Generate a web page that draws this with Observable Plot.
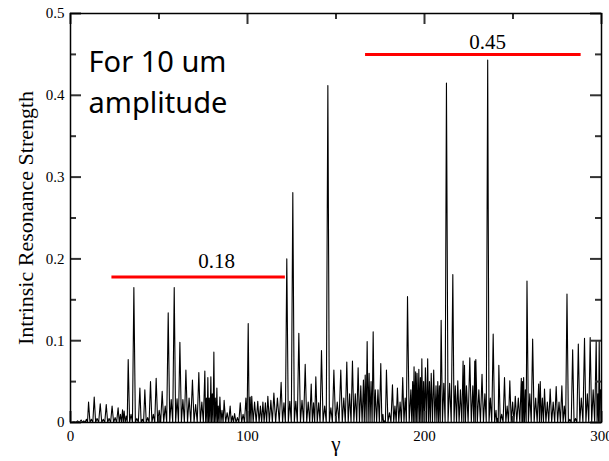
<!DOCTYPE html>
<html>
<head>
<meta charset="utf-8">
<script src="https://cdn.jsdelivr.net/npm/d3@7"></script>
<script src="https://cdn.jsdelivr.net/npm/@observablehq/plot@0.6"></script>
<style>
  html, body { margin: 0; padding: 0; background: #fff; }
  #chart svg { display: block; }
</style>
</head>
<body>
<div id="chart"></div>
<script>
// Resonance peaks (gamma, strength)
const gamma = [
  2, 4, 6, 7.5, 9, 10.2, 11.8, 13.4, 15, 16.8,
  18.5, 20.2, 21.8, 23.5, 25.2, 26.9, 28.2, 29.4, 30.3, 31.5,
  32.6, 34.2, 35.8, 37.5, 39.2, 40.6, 42.0, 43.6, 45.2, 46.8,
  48.4, 50.1, 51.8, 53.5, 55.2, 56.9, 58.6, 60.2, 61.8, 63.5,
  65.2, 67.0, 68.9, 70.7, 72.5, 74.2, 75.9, 76.8, 77.6, 78.4,
  79.3, 80.1, 81.0, 81.8, 82.7, 83.5, 84.4, 85.6, 86.8, 88.5,
  90.2, 91.5, 92.7, 94.3, 95.9, 97.5, 99.1, 100.4, 101.5, 102.4,
  104.0, 105.8, 107.3, 108.7, 110.1, 111.5, 113.2, 114.9, 116.9, 119.0,
  120.6, 122.2, 123.9, 125.6, 127.3, 129.0, 130.8, 132.6, 134.3, 136.0,
  137.3, 138.6, 140.2, 141.8, 143.6, 145.4, 147.1, 148.8, 150.7, 152.7,
  154.4, 156.1, 157.7, 159.3, 160.9, 162.5, 164.0, 165.5, 166.5, 167.6,
  168.7, 169.8, 171.0, 172.2, 173.7, 175.3, 176.5, 177.3, 178.5, 180.2,
  181.9, 183.3, 184.7, 186.2, 187.7, 189.1, 190.4, 192.3, 193.3, 194.1,
  195.0, 195.8, 196.8, 197.7, 198.5, 199.5, 200.5, 201.8, 202.8, 203.8,
  205.2, 206.5, 207.5, 208.4, 209.4, 210.9, 212.4, 214.2, 216.0, 217.4,
  218.8, 220.3, 221.8, 222.6, 223.7, 225.6, 227.3, 228.4, 229.0, 230.7,
  232.5, 234.1, 235.7, 237.2, 238.8, 240.4, 241.3, 242.0, 243.6, 245.2,
  246.7, 248.2, 249.8, 251.3, 253.0, 254.7, 255.4, 256.0, 257.0, 257.9,
  259.5, 261.1, 262.8, 264.5, 265.4, 266.6, 267.8, 269.4, 271.0, 272.7,
  274.4, 276.0, 277.6, 279.0, 280.5, 282.1, 283.7, 285.3, 286.9, 288.6,
  290.4, 292.0, 293.6, 295.3, 297.0, 298.0, 298.7, 299.5
];
const strength = [
  0.001, 0.002, 0.003, 0.002, 0.004, 0.025, 0.004, 0.031, 0.005, 0.023,
  0.004, 0.022, 0.005, 0.020, 0.006, 0.018, 0.010, 0.0155, 0.014, 0.008,
  0.077, 0.010, 0.165, 0.005, 0.042, 0.004, 0.040, 0.006, 0.050, 0.010,
  0.054, 0.015, 0.038, 0.020, 0.134, 0.028, 0.165, 0.029, 0.098, 0.028,
  0.064, 0.030, 0.052, 0.022, 0.061, 0.025, 0.063, 0.030, 0.055, 0.030,
  0.056, 0.035, 0.086, 0.030, 0.042, 0.020, 0.031, 0.015, 0.027, 0.012,
  0.020, 0.008, 0.011, 0.006, 0.024, 0.010, 0.030, 0.121, 0.031, 0.032,
  0.025, 0.026, 0.020, 0.025, 0.024, 0.032, 0.027, 0.036, 0.030, 0.049,
  0.024, 0.200, 0.026, 0.281, 0.026, 0.109, 0.027, 0.071, 0.025, 0.047,
  0.024, 0.056, 0.024, 0.088, 0.020, 0.412, 0.018, 0.064, 0.025, 0.064,
  0.030, 0.074, 0.035, 0.075, 0.035, 0.067, 0.045, 0.052, 0.058, 0.099,
  0.060, 0.050, 0.111, 0.040, 0.040, 0.072, 0.010, 0.002, 0.064, 0.012,
  0.046, 0.020, 0.042, 0.025, 0.055, 0.030, 0.154, 0.040, 0.050, 0.068,
  0.062, 0.060, 0.065, 0.055, 0.078, 0.050, 0.067, 0.078, 0.050, 0.060,
  0.064, 0.045, 0.050, 0.045, 0.125, 0.048, 0.415, 0.048, 0.181, 0.045,
  0.051, 0.040, 0.075, 0.070, 0.045, 0.079, 0.045, 0.075, 0.077, 0.040,
  0.059, 0.035, 0.443, 0.030, 0.108, 0.015, 0.005, 0.070, 0.010, 0.055,
  0.020, 0.051, 0.025, 0.032, 0.030, 0.054, 0.050, 0.055, 0.040, 0.173,
  0.035, 0.102, 0.030, 0.047, 0.050, 0.030, 0.041, 0.025, 0.041, 0.025,
  0.044, 0.025, 0.045, 0.020, 0.157, 0.004, 0.089, 0.005, 0.096, 0.030,
  0.103, 0.035, 0.104, 0.040, 0.100, 0.035, 0.100, 0.040
];
// the curve drops back to the baseline between resonances
const troughStrength = 0;

// Reference levels (red lines)
const levelValue = [0.178, 0.45];
const levelStart = [23.4, 166.7];
const levelEnd = [121.4, 288.5];
const levelLabel = ["0.18", "0.45"];
const levelLabelX = [82.5, 235.6];
const levelLabelY = [0.1965, 0.4654];

// Axis ticks
const xMajor = [0, 100, 200, 300];
const xMinor = [50, 150, 250];
const yMajor = [0, 0.1, 0.2, 0.3, 0.4, 0.5];
const yMinor = [0.05, 0.15, 0.25, 0.35, 0.45];

// Build the spike curve: peak, baseline, peak, ...
const curve = [{g: 0, s: 0}];
for (let i = 0; i < gamma.length; i++) {
  curve.push({g: gamma[i], s: strength[i]});
  if (i < gamma.length - 1) curve.push({g: (gamma[i] + gamma[i + 1]) / 2, s: troughStrength});
}
curve.push({g: 300, s: 0.04});

const levels = levelValue.map((v, i) => ({v, x1: levelStart[i], x2: levelEnd[i], label: levelLabel[i], lx: levelLabelX[i], ly: levelLabelY[i]}));

const W = 609, H = 461, mL = 70, mR = 8, mT = 13, mB = 39;
const fw = W - mL - mR, fh = H - mT - mB;
const serif = "Liberation Serif, Times New Roman, serif";
const sans = "Noto Sans, Open Sans, sans-serif";
const tk = {stroke: "#333", strokeWidth: 2};

const plot = Plot.plot({
  width: W,
  height: H,
  marginLeft: mL,
  marginRight: mR,
  marginTop: mT,
  marginBottom: mB,
  style: {fontFamily: serif, background: "#fff", overflow: "visible"},
  x: {domain: [0, 300], axis: null},
  y: {domain: [0, 0.5], axis: null},
  marks: [
    // spikes
    Plot.line(curve, {x: "g", y: "s", stroke: "#000", strokeWidth: 1.1}),
    // red reference lines
    Plot.ruleY(levels, {y: "v", x1: "x1", x2: "x2", stroke: "#ff0000", strokeWidth: 3}),
    Plot.text(levels, {x: "lx", y: "ly", text: "label", fontSize: 21, fontFamily: serif, fill: "#000"}),
    // inward ticks on all four sides
    Plot.ruleX(xMajor, {x: d => d, insetTop: fh - 11, ...tk}),
    Plot.ruleX(xMajor, {x: d => d, insetBottom: fh - 11, ...tk}),
    Plot.ruleX(xMinor, {x: d => d, insetTop: fh - 6, ...tk}),
    Plot.ruleX(xMinor, {x: d => d, insetBottom: fh - 6, ...tk}),
    Plot.ruleY(yMajor, {y: d => d, insetRight: fw - 11, ...tk}),
    Plot.ruleY(yMajor, {y: d => d, insetLeft: fw - 11, ...tk}),
    Plot.ruleY(yMinor, {y: d => d, insetRight: fw - 6, ...tk}),
    Plot.ruleY(yMinor, {y: d => d, insetLeft: fw - 6, ...tk}),
    // tick labels
    Plot.axisX(xMajor, {anchor: "bottom", tickSize: 0, tickPadding: 8, tickFormat: d => String(d), fontSize: 15, fontFamily: serif, fill: "#000", label: null}),
    Plot.axisY(yMajor, {anchor: "left", tickSize: 0, tickPadding: 6, tickFormat: d => String(d), fontSize: 15, fontFamily: serif, fill: "#000", label: null}),
    Plot.frame({stroke: "#000", strokeWidth: 1.5}),
    // axis titles
    Plot.text(["γ"], {frameAnchor: "bottom", dy: 28, fontSize: 21, fontFamily: serif, fill: "#000"}),
    Plot.text(["Intrinsic Resonance Strength"], {frameAnchor: "left", dx: -45, rotate: -90, textAnchor: "middle", fontSize: 22, fontFamily: serif, fill: "#000"}),
    // annotation
    Plot.text(["For 10 um"], {x: 10.2, y: 0.440, textAnchor: "start", fontSize: 29, fontFamily: sans, fill: "#000"}),
    Plot.text(["amplitude"], {x: 10.2, y: 0.390, textAnchor: "start", fontSize: 29, fontFamily: sans, fill: "#000"})
  ]
});
document.getElementById("chart").appendChild(plot);
</script>
</body>
</html>
